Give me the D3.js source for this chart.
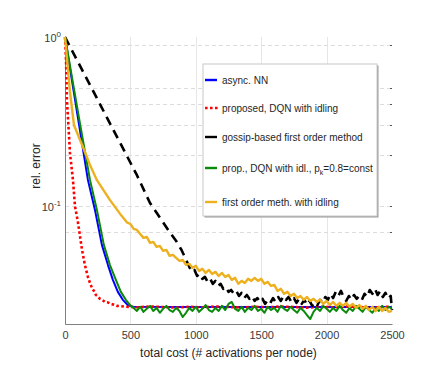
<!DOCTYPE html>
<html>
<head>
<meta charset="utf-8">
<script src="https://cdn.jsdelivr.net/npm/d3@7"></script>
<style>
  body { margin: 0; background: #fff; }
  svg { font-family: 'Liberation Sans', Arial, sans-serif; }
</style>
</head>
<body>
<svg id="chart" width="443" height="374"></svg>
<script>

// tick values
const xTicks = [0, 500, 1000, 1500, 2000, 2500];
const xGrid = [500, 1000, 1500, 2000];
const yTicks = [1, 0.1];
const yTickExp = ['0', '-1'];
const yGrid = [0.9, 0.5, 0.4, 0.3, 0.2, 0.1, 0.07];

const legendLabels = [
  'async. NN',
  'proposed, DQN with idling',
  'gossip-based first order method',
  'prop., DQN with idl., p',
  'first order meth. with idling'
];

// series: [total cost, rel. error]
const asyncNN = [[0, 1], [99, 0.332], [175, 0.1426], [229, 0.0947], [282, 0.0588], [328, 0.0448],
  [366, 0.0365], [404, 0.031], [442, 0.0278], [480, 0.0259], [518, 0.0253], [1000, 0.0252],
  [1500, 0.0252], [2000, 0.0252], [2500, 0.0252]];

const proposed = [[0, 1], [8, 0.73], [15, 0.42], [38, 0.206], [61, 0.142], [76, 0.1], [99, 0.08],
  [130, 0.055], [152, 0.0448], [175, 0.038], [190, 0.0352], [206, 0.0327], [220, 0.0315],
  [236, 0.0297], [250, 0.0292], [267, 0.0282], [285, 0.0278], [305, 0.027], [330, 0.0268],
  [350, 0.0263], [375, 0.0260], [396, 0.0256], [430, 0.0255], [473, 0.0253], [550, 0.0251],
  [650, 0.0254], [750, 0.0252], [850, 0.0250], [950, 0.0253], [1050, 0.0251], [1150, 0.0254],
  [1250, 0.0252], [1350, 0.0250], [1450, 0.0253], [1550, 0.0251], [1650, 0.0254], [1750, 0.0252],
  [1850, 0.0250], [1950, 0.0253], [2050, 0.0251], [2150, 0.0254], [2250, 0.0252], [2350, 0.0250],
  [2450, 0.0253], [2500, 0.0252]];

const gossip = [[0, 1], [275, 0.39], [550, 0.152], [650, 0.104], [750, 0.08], [800, 0.07],
  [850, 0.062], [890, 0.055], [920, 0.049], [950, 0.0436], [970, 0.0407], [990, 0.0418],
  [1010, 0.0385], [1030, 0.0396], [1050, 0.037], [1070, 0.038], [1090, 0.0355], [1110, 0.037],
  [1130, 0.0346], [1150, 0.036], [1170, 0.0336], [1190, 0.0346], [1210, 0.0323], [1230, 0.0332],
  [1250, 0.031], [1270, 0.0318], [1290, 0.0302], [1310, 0.0314], [1330, 0.0293], [1350, 0.0306],
  [1370, 0.0285], [1390, 0.0297], [1410, 0.0282], [1430, 0.0293], [1450, 0.0274], [1470, 0.0285],
  [1490, 0.027], [1510, 0.0282], [1530, 0.0263], [1550, 0.0278], [1570, 0.0267], [1590, 0.0285],
  [1610, 0.027], [1630, 0.0289], [1650, 0.0274], [1670, 0.0293], [1690, 0.0278], [1710, 0.0289],
  [1730, 0.027], [1750, 0.0285], [1770, 0.0267], [1790, 0.0282], [1810, 0.0263], [1830, 0.0278],
  [1850, 0.0259], [1870, 0.0274], [1890, 0.0256], [1910, 0.027], [1930, 0.0259], [1950, 0.0278],
  [1970, 0.0267], [1990, 0.0289], [2010, 0.0278], [2030, 0.0302], [2050, 0.0285], [2070, 0.031],
  [2090, 0.0293], [2110, 0.0314], [2130, 0.0289], [2150, 0.0274], [2170, 0.0293], [2190, 0.0278],
  [2210, 0.0297], [2230, 0.0282], [2250, 0.0293], [2270, 0.0278], [2290, 0.0302], [2310, 0.0289],
  [2330, 0.0318], [2350, 0.0302], [2370, 0.0323], [2390, 0.0297], [2410, 0.0314], [2430, 0.0289],
  [2450, 0.0306], [2470, 0.0282], [2490, 0.0293], [2500, 0.0242]];

const propConst = [[0, 1], [107, 0.332], [191, 0.1426], [244, 0.0947], [297, 0.0588], [343, 0.0448],
  [389, 0.0365], [427, 0.031], [465, 0.0278], [503, 0.0256], [525, 0.0249], [550, 0.0239],
  [575, 0.0253], [600, 0.0236], [625, 0.0246], [650, 0.0256], [675, 0.0239], [700, 0.0249],
  [725, 0.0233], [750, 0.0246], [775, 0.0256], [800, 0.0242], [825, 0.0236], [850, 0.0249],
  [875, 0.0239], [900, 0.022], [925, 0.0233], [950, 0.0249], [975, 0.0239], [1000, 0.0253],
  [1025, 0.0236], [1050, 0.0246], [1075, 0.0259], [1100, 0.0242], [1125, 0.0236], [1150, 0.0249],
  [1175, 0.0239], [1200, 0.0256], [1225, 0.0242], [1250, 0.0263], [1275, 0.027], [1300, 0.0246],
  [1325, 0.0239], [1350, 0.0253], [1375, 0.0236], [1400, 0.0249], [1425, 0.0242], [1450, 0.0256],
  [1475, 0.0239], [1500, 0.0246], [1525, 0.0233], [1550, 0.0253], [1575, 0.0242], [1600, 0.0249],
  [1625, 0.0236], [1650, 0.0256], [1675, 0.0246], [1700, 0.0239], [1725, 0.0253], [1750, 0.0242],
  [1775, 0.0233], [1800, 0.0249], [1825, 0.0239], [1850, 0.0226], [1875, 0.0214], [1900, 0.0236],
  [1925, 0.0249], [1950, 0.0239], [1975, 0.0256], [2000, 0.0246], [2025, 0.0236], [2050, 0.0249],
  [2075, 0.0239], [2100, 0.0256], [2125, 0.0242], [2150, 0.0233], [2175, 0.0249], [2200, 0.0239],
  [2225, 0.0256], [2250, 0.0246], [2275, 0.0236], [2300, 0.0253], [2325, 0.0242], [2350, 0.0233],
  [2375, 0.0249], [2400, 0.0239], [2425, 0.0256], [2450, 0.0242], [2475, 0.0253], [2500, 0.0246]];

const firstOrderIdle = [[0, 1], [15, 0.75], [38, 0.473], [69, 0.3], [130, 0.23], [191, 0.175],
  [244, 0.142], [343, 0.1086], [420, 0.09], [473, 0.08], [500, 0.0782], [525, 0.0731],
  [550, 0.0721], [575, 0.0683], [600, 0.0647], [625, 0.0656], [650, 0.0604], [675, 0.0612],
  [700, 0.0572], [725, 0.058], [750, 0.0542], [775, 0.0549], [800, 0.0506], [825, 0.0513],
  [850, 0.0492], [875, 0.0473], [900, 0.0479], [925, 0.0448], [950, 0.0454], [975, 0.043],
  [1000, 0.0442], [1025, 0.0412], [1050, 0.0424], [1075, 0.0401], [1100, 0.0418], [1125, 0.0396],
  [1150, 0.0407], [1175, 0.0385], [1200, 0.0401], [1225, 0.038], [1250, 0.039], [1275, 0.0365],
  [1300, 0.0375], [1325, 0.0346], [1350, 0.036], [1375, 0.035], [1400, 0.037], [1425, 0.036],
  [1450, 0.0375], [1475, 0.036], [1500, 0.037], [1525, 0.0346], [1550, 0.0355], [1575, 0.0336],
  [1600, 0.0341], [1625, 0.0314], [1650, 0.0323], [1675, 0.0302], [1700, 0.031], [1725, 0.0293],
  [1750, 0.0302], [1775, 0.0285], [1800, 0.0293], [1825, 0.0278], [1850, 0.0289], [1875, 0.0274],
  [1900, 0.0282], [1925, 0.027], [1950, 0.0278], [1975, 0.0263], [2000, 0.0274], [2025, 0.0259],
  [2050, 0.027], [2075, 0.0256], [2100, 0.0267], [2125, 0.0256], [2150, 0.0267], [2175, 0.0253],
  [2200, 0.0263], [2225, 0.0249], [2250, 0.0259], [2275, 0.0246], [2300, 0.0256], [2325, 0.0242],
  [2350, 0.0253], [2375, 0.0239], [2400, 0.0253], [2425, 0.0239], [2450, 0.0249], [2475, 0.0236],
  [2500, 0.0239]];

const svg = d3.select('#chart');

// plot area
const plotLeft = 65, plotRight = 392, plotTop = 37, plotBottom = 324;

const xScale = d3.scaleLinear().domain([0, 2500]).range([plotLeft, plotRight]);
const yScale = d3.scaleLog().domain([0.02, 1]).range([plotBottom, plotTop]);

// vertical grid
svg.append('g')
  .selectAll('line')
  .data(xGrid)
  .enter()
  .append('line')
  .attr('x1', d => Math.round(xScale(d)) + 0.5)
  .attr('x2', d => Math.round(xScale(d)) + 0.5)
  .attr('y1', plotTop)
  .attr('y2', plotBottom)
  .attr('stroke', '#e6e6e6')
  .attr('stroke-width', 1);

// horizontal dashed grid
svg.append('g')
  .selectAll('line')
  .data(yGrid)
  .enter()
  .append('line')
  .attr('x1', plotLeft)
  .attr('x2', plotRight)
  .attr('y1', d => Math.round(yScale(d)) + 0.5)
  .attr('y2', d => Math.round(yScale(d)) + 0.5)
  .attr('stroke', '#dcdcdc')
  .attr('stroke-dasharray', '4,3')
  .attr('stroke-width', 1);

// small ticks on the right edge
svg.append('g')
  .selectAll('line')
  .data(yGrid)
  .enter()
  .append('line')
  .attr('x1', plotRight - 2)
  .attr('x2', plotRight)
  .attr('y1', d => Math.round(yScale(d)) + 0.5)
  .attr('y2', d => Math.round(yScale(d)) + 0.5)
  .attr('stroke', '#555');

// x axis
const xAxis = d3.axisBottom(xScale)
  .tickValues(xTicks)
  .tickFormat(d3.format('d'))
  .tickSize(0)
  .tickPadding(7);
const xG = svg.append('g')
  .attr('transform', `translate(0, ${plotBottom})`)
  .call(xAxis);
xG.select('.domain').attr('stroke', '#808080');
xG.selectAll('text')
  .attr('fill', '#3a3a3a')
  .style('font-size', '11px')
  .style('font-family', "'Liberation Sans', Arial, sans-serif");

// y axis
const yAxis = d3.axisLeft(yScale)
  .tickValues(yTicks)
  .tickSize(0)
  .tickFormat('');
const yG = svg.append('g')
  .attr('transform', `translate(${plotLeft}, 0)`)
  .call(yAxis);
yG.select('.domain').attr('stroke', '#808080');

// power-of-ten tick labels
yTicks.forEach((v, i) => {
  const t = svg.append('text')
    .attr('x', plotLeft - 4)
    .attr('y', yScale(v) + 5)
    .attr('text-anchor', 'end')
    .attr('fill', '#3a3a3a')
    .style('font-size', '11px');
  t.append('tspan').text('10');
  t.append('tspan')
    .text(yTickExp[i])
    .attr('dy', -5)
    .style('font-size', '8px');
});

// axis titles
svg.append('text')
  .text('total cost (# activations per node)')
  .attr('x', (plotLeft + plotRight) / 2)
  .attr('y', 357)
  .attr('text-anchor', 'middle')
  .attr('fill', '#262626')
  .style('font-size', '12px');

svg.append('text')
  .text('rel. error')
  .attr('transform', 'translate(40, 166) rotate(-90)')
  .attr('text-anchor', 'middle')
  .attr('fill', '#262626')
  .style('font-size', '12px');

// draw the curves
const line = d3.line()
  .x(d => xScale(d[0]))
  .y(d => yScale(d[1]));

const styles = [
  { color: '#0000ff', width: 2, dash: null },
  { color: '#ff0000', width: 2.6, dash: '2.6,2.4' },
  { color: '#000000', width: 2.6, dash: '9,6' },
  { color: '#0a8a0a', width: 2, dash: null },
  { color: '#edb120', width: 2.4, dash: null }
];
const series = [asyncNN, proposed, gossip, propConst, firstOrderIdle];

series.forEach((s, i) => {
  svg.append('path')
    .attr('d', line(s))
    .attr('fill', 'none')
    .attr('stroke', styles[i].color)
    .attr('stroke-width', styles[i].width)
    .attr('stroke-dasharray', styles[i].dash)
    .attr('stroke-linejoin', 'round');
});

// legend box with shadow
const lx = 203, ly = 64, lw = 174, lh = 152;
svg.append('rect')
  .attr('x', lx + 1.5)
  .attr('y', ly + 1.5)
  .attr('width', lw)
  .attr('height', lh)
  .attr('fill', '#9a9a9a');
svg.append('rect')
  .attr('x', lx)
  .attr('y', ly)
  .attr('width', lw)
  .attr('height', lh)
  .attr('fill', '#fff')
  .attr('stroke', '#c8c8c8')
  .attr('stroke-width', 1);

const rowY = [80, 108, 137, 168, 202];
const legend = svg.append('g')
  .selectAll('g')
  .data(legendLabels)
  .enter()
  .append('g')
  .attr('transform', (d, i) => `translate(${lx + 2}, ${rowY[i]})`);

legend.append('line')
  .attr('x1', 0)
  .attr('x2', (d, i) => i === 1 ? 14 : 12)
  .attr('stroke', (d, i) => styles[i].color)
  .attr('stroke-width', 2.4)
  .attr('stroke-dasharray', (d, i) => i === 1 ? '2.6,2.4' : null);

legend.append('text')
  .attr('x', 17)
  .attr('y', 3.5)
  .attr('fill', '#262626')
  .style('font-size', '10px')
  .each(function (d, i) {
    const t = d3.select(this);
    t.append('tspan').text(d);
    if (i === 3) {
      t.append('tspan').text('k').attr('dy', 3).style('font-size', '7px');
      t.append('tspan').text('=0.8=const').attr('dy', -3);
    }
  });

</script>
</body>
</html>
